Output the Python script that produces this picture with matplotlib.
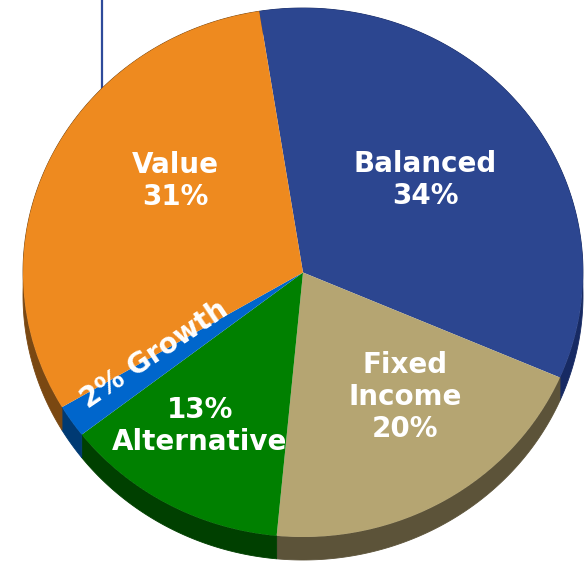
import numpy as np
import matplotlib
matplotlib.use("Agg")
import matplotlib.pyplot as plt

# ---- data ----
categories = ["Balanced", "Fixed Income", "Alternative", "Growth", "Value"]
shares = [34, 20, 13, 2, 31]
label_texts = ["Balanced\n34%", "Fixed\nIncome\n20%", "13%\nAlternative", "2% Growth", "Value\n31%"]
top_colors = ["#2C4690", "#B5A572", "#008000", "#0066CC", "#EE8A1F"]
side_colors = ["#172A63", "#5C5339", "#004000", "#003A73", "#7A4812"]

# ---- layout (pixel geometry of the reference) ----
W, H = 585, 561
cx, cy, rx, ry, depth_px = 303, 272.5, 280, 264.5, 23

fig = plt.figure(figsize=(W / 100, H / 100), dpi=100)
ax = fig.add_axes([0, 0, 1, 1])

wedges, _ = ax.pie(shares, colors=top_colors, startangle=99, counterclock=False,
                   radius=1, center=(0, 0),
                   wedgeprops=dict(linewidth=0, zorder=3))

# data limits such that the unit pie maps to the reference ellipse
ax.set_xlim(-cx / rx, (W - cx) / rx)
ax.set_ylim(-(H - cy) / ry, cy / ry)
ax.set_aspect("auto")
ax.axis("off")

depth = depth_px / ry
# cylinder side of each wedge
for w, sc in zip(wedges, side_colors):
    t = np.radians(np.linspace(w.theta1, w.theta2, 200))
    xs = np.cos(t)
    ys = np.sin(t)
    px = np.concatenate([xs, xs[::-1]])
    py = np.concatenate([ys, ys[::-1] - depth])
    ax.fill(px, py, color=sc, zorder=1, linewidth=0.6, edgecolor=sc)

# thin vertical line at top-left (partly hidden behind the pie)
lx = (102 - cx) / rx
ax.plot([lx, lx], [cy / ry, 0], color="#2E4A9A", lw=1.6, zorder=0.5, solid_capstyle="butt")

# labels (positions in reference pixels)
label_pos = [(425, 180), (405, 397), (200, 426), (154, 355), (175, 181)]
label_rot = [0, 0, 0, 34, 0]
for txt, (lpx, lpy), rot in zip(label_texts, label_pos, label_rot):
    ax.text((lpx - cx) / rx, (cy - lpy) / ry, txt, color="white", fontsize=20,
            fontweight="bold", family="DejaVu Sans", ha="center", va="center",
            ma="center", rotation=rot, rotation_mode="anchor",
            linespacing=1.2, zorder=5)

fig.savefig("out.png", dpi=100)
